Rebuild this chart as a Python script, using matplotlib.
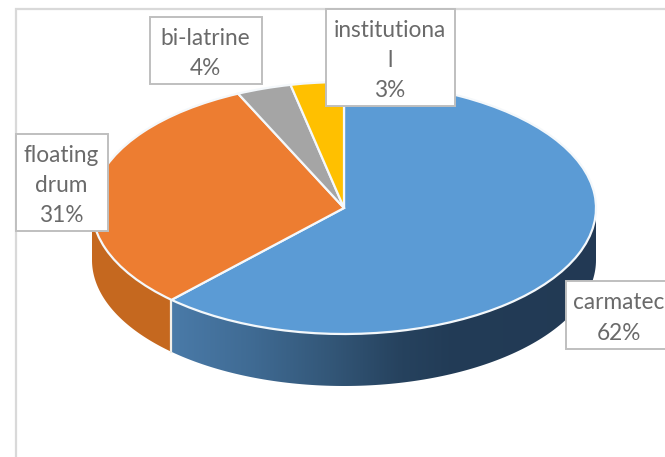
import numpy as np
import matplotlib.pyplot as plt
from matplotlib.patches import Polygon, Rectangle

labels = ["carmatec", "floating\ndrum", "bi-latrine", "institutiona\nl"]
values = [62, 31.1, 3.5, 3.4]
colors = ["#5B9BD5", "#ED7D31", "#A5A5A5", "#FFC000"]

W, H = 665, 457
cx, cy, rx, ry = 344, 208, 252, 126
depth = 52 / ry

plt.rcParams["font.family"] = ["Lato", "DejaVu Sans"]

fig = plt.figure(figsize=(W / 100, H / 100), dpi=100)
ax = fig.add_axes([0, 0, 1, 1])

ax.pie(values, colors=colors, startangle=90, counterclock=False, radius=1,
       wedgeprops=dict(edgecolor="#f4f8fb", linewidth=1.6, zorder=5), frame=False)
ax.set_aspect("auto")
ax.set_xlim(-cx / rx, (W - cx) / rx)
ax.set_ylim((cy - H) / ry, cy / ry)
ax.axis("off")


def pix(x, y):
    # pixel position in the picture -> axes data
    return (x - cx) / rx, (cy - y) / ry


def wall(a0, a1):
    # side of the disc between two clock angles (deg from top, clockwise)
    t = np.radians(np.linspace(a0, a1, 120))
    xs, ys = np.sin(t), np.cos(t)
    top = np.column_stack([xs, ys])
    bot = np.column_stack([xs, ys - depth])[::-1]
    return np.vstack([top, bot])


split = 360 * values[0] / sum(values)

# blue side with the dark gradient
blue = Polygon(wall(90, split), closed=True, facecolor="none", edgecolor="none", zorder=2)
ax.add_patch(blue)
grad_x = [171, 250, 330, 400, 450, 596]
grad_c = [(0.29, 0.48, 0.66), (0.25, 0.42, 0.58), (0.20, 0.34, 0.47),
          (0.15, 0.26, 0.37), (0.135, 0.235, 0.34), (0.135, 0.225, 0.33)]
px = np.arange(171, 597)
img = np.stack([np.interp(px, grad_x, [c[i] for c in grad_c]) for i in range(3)], axis=-1)[None, :, :]
x0, y0 = pix(171, 400)
x1, y1 = pix(596, 200)
im = ax.imshow(img, extent=[x0, x1, y0, y1], aspect="auto", zorder=2, interpolation="bilinear")
im.set_clip_path(blue)
ax.set_xlim(-cx / rx, (W - cx) / rx)
ax.set_ylim((cy - H) / ry, cy / ry)

# orange side
ax.add_patch(Polygon(wall(split, 270), closed=True, facecolor="#C5681F", edgecolor="none", zorder=2))

# line between the two sides
t = np.radians(split)
ax.plot([np.sin(t)] * 2, [np.cos(t), np.cos(t) - depth], color="#f2efe9", lw=1.6, zorder=3)

# chart frame
ax.add_patch(Rectangle(pix(16, 460), 700 / rx, 451 / ry, facecolor="none",
                       edgecolor="#d9d9d9", lw=1.6, zorder=1))

# data labels: box in pixels (left, top, right, bottom)
boxes = [(566, 281, 672, 349), (16, 134, 108, 231), (150, 17, 262, 84), (326, 9, 455, 106)]
for lab, val, (l, t_, r, b) in zip(labels, values, boxes):
    xa, ya = pix(l, b)
    ax.add_patch(Rectangle((xa, ya), (r - l) / rx, (b - t_) / ry, facecolor="white",
                           edgecolor="#bfbfbf", lw=1.4, zorder=6))
    tx, ty = pix((l + r) / 2 - 0.5, (t_ + b) / 2 + 3)
    ax.text(tx, ty, f"{lab}\n{val:.0f}%", ha="center", va="center", fontsize=16.3,
            color="#6a6a6a", linespacing=1.55, zorder=7)

fig.savefig("out.png", dpi=100)
